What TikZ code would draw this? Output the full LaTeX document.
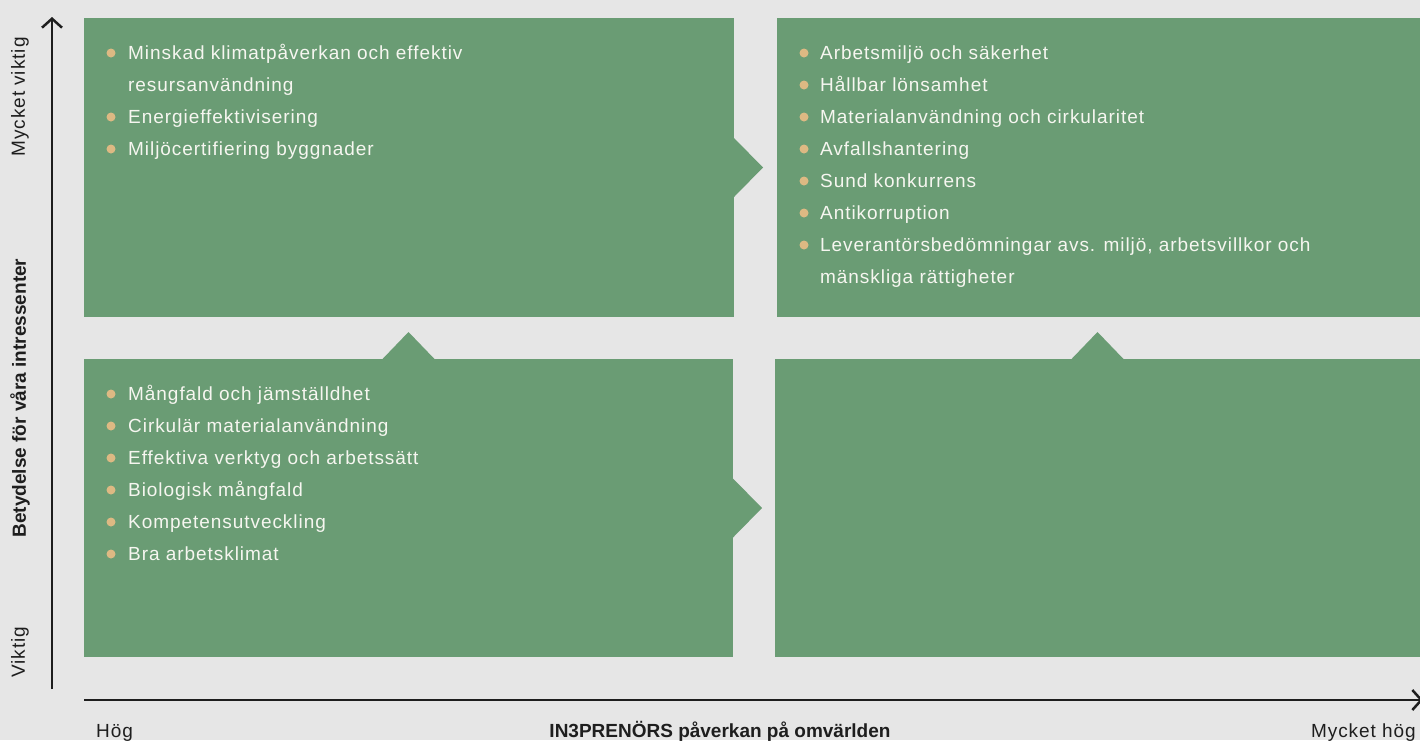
\documentclass[tikz,border=0pt]{standalone}
\usepackage{fontspec}
\setmainfont{Liberation Sans}
\newfontfamily\widefont[LetterSpace=5.0]{Liberation Sans}
\usetikzlibrary{arrows.meta}
\definecolor{bg}{HTML}{E6E6E6}
\definecolor{gr}{HTML}{6A9C74}
\definecolor{bul}{HTML}{DDB983}
\definecolor{tx}{HTML}{F6F6F0}
\definecolor{ink}{HTML}{1E1E1E}
\begin{document}
\begin{tikzpicture}[x=1pt,y=-1pt,
  box/.style={fill=gr,draw=none,inner sep=0pt,outer sep=0pt,anchor=north west},
  item/.style={anchor=base west,inner sep=0pt,text=tx,font=\widefont\fontsize{19}{22}\selectfont},
  dot/.style={circle,fill=bul,draw=none,inner sep=0pt,minimum size=9pt},
  lab/.style={text=ink,inner sep=0pt,font=\widefont\fontsize{19}{22}\selectfont},
  titlelab/.style={text=ink,inner sep=0pt,font=\fontsize{19}{22}\selectfont\bfseries},
  axisline/.style={draw=ink,line width=2.5pt,-{Straight Barb[length=9pt,width=20pt,line width=2.5pt]}}]
\fill[bg] (0,0) rectangle (1420,740);
\useasboundingbox (0,0) rectangle (1420,740);
% boxes
\node[box,minimum width=650pt,minimum height=299pt] (tl) at (84,18) {};
\node[box,minimum width=643pt,minimum height=299pt] (tr) at (777,18) {};
\node[box,minimum width=649pt,minimum height=298pt] (bl) at (84,359) {};
\node[box,minimum width=645pt,minimum height=298pt] (br) at (775,359) {};
% pointers
\fill[gr] (tl.east) ++(0,-29.5) -- ++(29,29.5) -- ++(-29,29.5) -- cycle;
\fill[gr] (bl.east) ++(0,-29.5) -- ++(29,29.5) -- ++(-29,29.5) -- cycle;
\fill[gr] (bl.north) ++(-26,0) -- ++(26,-27) -- ++(26,27) -- cycle;
\fill[gr] (br.north) ++(-26,0) -- ++(26,-27) -- ++(26,27) -- cycle;
% top-left items
\node[dot] (d11) at (111,53) {};
\node[item] (t11) at (128,59) {Minskad klimatpåverkan och effektiv};
\node[item] (t11b) at (128,91) {resursanvändning};
\node[dot] (d12) at (111,117) {};
\node[item] (t12) at (128,123) {Energieffektivisering};
\node[dot] (d13) at (111,149) {};
\node[item] (t13) at (128,155) {Miljöcertifiering byggnader};
% top-right items
\node[dot] (d21) at (804,53) {};
\node[item] (t21) at (820,59) {Arbetsmiljö och säkerhet};
\node[dot] (d22) at (804,85) {};
\node[item] (t22) at (820,91) {Hållbar lönsamhet};
\node[dot] (d23) at (804,117) {};
\node[item] (t23) at (820,123) {Materialanvändning och cirkularitet};
\node[dot] (d24) at (804,149) {};
\node[item] (t24) at (820,155) {Avfallshantering};
\node[dot] (d25) at (804,181) {};
\node[item] (t25) at (820,187) {Sund konkurrens};
\node[dot] (d26) at (804,213) {};
\node[item] (t26) at (820,219) {Antikorruption};
\node[dot] (d27) at (804,245) {};
\node[item] (t27) at (820,251) {Leverantörsbedömningar avs. miljö, arbetsvillkor och};
\node[item] (t27b) at (820,283) {mänskliga rättigheter};
% bottom-left items
\node[dot] (d31) at (111,394) {};
\node[item] (t31) at (128,400) {Mångfald och jämställdhet};
\node[dot] (d32) at (111,426) {};
\node[item] (t32) at (128,432) {Cirkulär materialanvändning};
\node[dot] (d33) at (111,458) {};
\node[item] (t33) at (128,464) {Effektiva verktyg och arbetssätt};
\node[dot] (d34) at (111,490) {};
\node[item] (t34) at (128,496) {Biologisk mångfald};
\node[dot] (d35) at (111,522) {};
\node[item] (t35) at (128,528) {Kompetensutveckling};
\node[dot] (d36) at (111,554) {};
\node[item] (t36) at (128,560) {Bra arbetsklimat};
% axes
\coordinate (y0) at (52,689);
\coordinate (y1) at (52,17);
\coordinate (x0) at (84,700);
\coordinate (x1) at (1423,700);
\draw[axisline] (y0) -- (y1);
\draw[axisline] (x0) -- (x1);
% axis labels
\node[lab,rotate=90] (ymax) at (20,97) {Mycket viktig};
\node[lab,rotate=90] (ymin) at (20,652) {Viktig};
\node[titlelab,rotate=90] (ytitle) at (20,398) {Betydelse för våra intressenter};
\node[lab,anchor=base west] (xmin) at (96,737) {Hög};
\node[lab,anchor=base east] (xmax) at (1416,737) {Mycket hög};
\node[titlelab,anchor=base] (xtitle) at (720,737) {IN3PRENÖRS påverkan på omvärlden};
\end{tikzpicture}
\end{document}
